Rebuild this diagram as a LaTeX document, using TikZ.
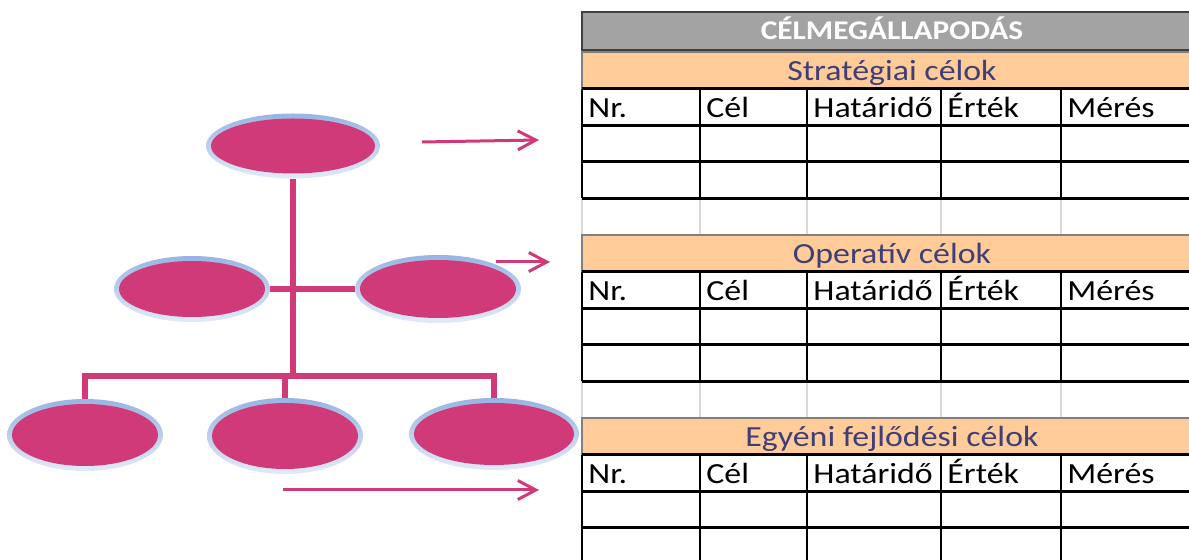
\documentclass[tikz,border=0pt]{standalone}
\usepackage{fontspec}
\setmainfont{Carlito}[FakeStretch=1.16]
\usetikzlibrary{shapes.geometric, arrows.meta, positioning, calc}
\definecolor{goalpink}{HTML}{D03A78}
\definecolor{rimblue}{HTML}{97B5E3}
\definecolor{rimpale}{HTML}{E2EAF7}
\definecolor{headgray}{HTML}{A3A3A3}
\definecolor{bandorange}{HTML}{FFCC99}
\definecolor{bandtext}{HTML}{3F3F76}
\definecolor{gridgray}{HTML}{D9D9D9}

\begin{document}
\begin{tikzpicture}[x=0.5pt, y=-0.5pt, font=\fontsize{14.6}{17}\selectfont]
    \tikzstyle{goal} = [ellipse, inner sep=0pt, top color=rimblue, bottom color=rimpale,
        path picture={\fill[goalpink] let \p1=($(path picture bounding box.north east)-(path picture bounding box.center)$)
            in (path picture bounding box.center) ellipse ({\x1-2.5pt} and {\y1-2.5pt});}]
    \tikzstyle{link} = [goalpink, line width=2.6pt]
    \tikzstyle{pointer} = [goalpink, line width=1.5pt, -{Straight Barb[length=9pt, width=9.5pt, line width=1.5pt]}]
    \tikzstyle{cell} = [anchor=base west, inner sep=0pt]
    \tikzstyle{band} = [anchor=base, inner sep=0pt, text=bandtext]

    \useasboundingbox (0,0) rectangle (1189,560);

    % goal tree
    \node (top) [goal, minimum width=87pt, minimum height=32.5pt] at (293,146) {};
    \node (midL) [goal, minimum width=78pt, minimum height=33pt] at (192,289) {};
    \node (midR) [goal, minimum width=83pt, minimum height=34pt] at (438,289) {};
    \node (botL) [goal, minimum width=78pt, minimum height=36pt] at (85,435) {};
    \node (botM) [goal, minimum width=78pt, minimum height=38pt] at (285,436) {};
    \node (botR) [goal, minimum width=85pt, minimum height=36pt] at (494,434) {};
    \coordinate (bus) at (293,376);

    \draw [link] (top) -- (bus);
    \draw [link] (midL) -- (midR);
    \draw [link] (bus) -| (botL);
    \draw [link] (bus) -| (botM);
    \draw [link] (bus) -| (botR);

    % arrows to the tables
    \coordinate (s1) at (422,142); \coordinate (t1) at (539,140);
    \coordinate (s2) at (496,262); \coordinate (t2) at (550,262);
    \coordinate (s3) at (283,490); \coordinate (t3) at (539,490);
    \draw [pointer] (s1) -- (t1);
    \draw [pointer] (s2) -- (t2);
    \draw [pointer] (s3) -- (t3);

    % agreement table
    \begin{scope}
    \clip (0,0) rectangle (1189,560);
    \draw [fill=headgray, draw=black!75, line width=1.3pt] (582,12) rectangle (1202,50);
    \node (title) [anchor=base, inner sep=0pt, text=white, font=\fontsize{13.5}{16}\selectfont\bfseries] at (892,40) {CÉLMEGÁLLAPODÁS};
    \foreach \t/\name [count=\s] in {52/Stratégiai célok, 235/Operatív célok, 418/Egyéni fejlődési célok} {
        \draw [fill=bandorange, draw=black!50, line width=0.9pt] (582,\t) rectangle (1202,\t+36.6);
        \node (band\s) [band] at (892,\t+28.5) {\name};
        \foreach \x in {582,700,807,941,1061}
            \draw [gridgray, line width=1.1pt] (\x,\t+146.4) -- (\x,\t+183);
        \foreach \k in {1,2,3,4}
            \draw [line width=1.4pt] (582,\t+36.6*\k) -- (1202,\t+36.6*\k);
        \foreach \x in {582,700,807,941,1061}
            \draw [line width=1.4pt] (\x,\t+36.6) -- (\x,\t+146.4);
        \foreach \x/\lbl [count=\c] in {582/Nr., 700/Cél, 807/Határidő, 941/Érték, 1061/Mérés}
            \node (head\s-\c) [cell] at (\x+6,\t+66) {\lbl};
    }
    \end{scope}
\end{tikzpicture}
\end{document}
